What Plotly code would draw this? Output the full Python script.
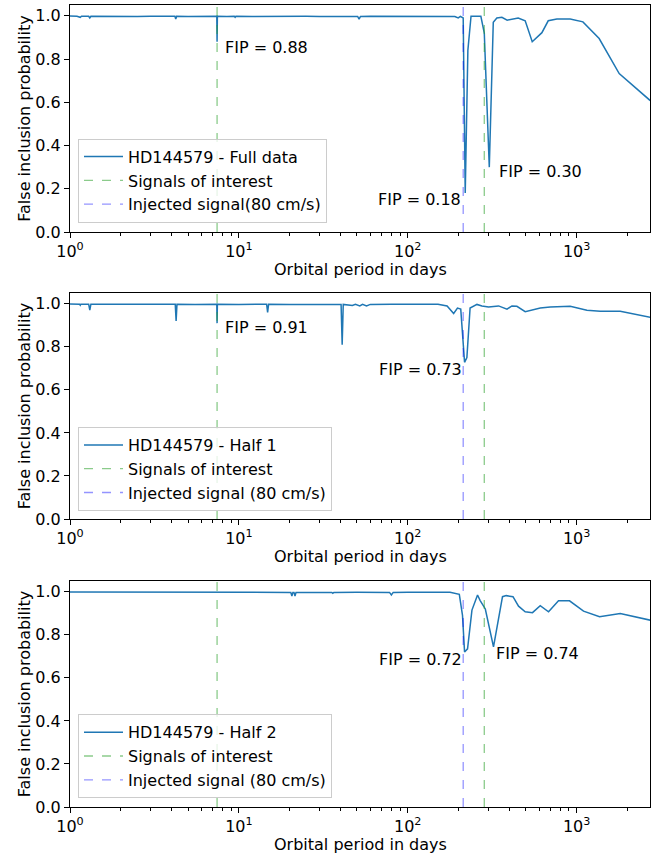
import math
import plotly.graph_objects as go

# ---------------- data ----------------
period_full = [1.0, 1.10, 1.15, 1.17, 1.29, 1.31, 1.33, 1.6, 2.0, 2.5, 3.0, 3.5, 4.18, 4.23, 4.28,
               5.0, 6.0, 7.0, 7.40, 7.43, 7.46, 8.5, 9.4, 9.5, 9.6, 12, 15, 20, 25, 30, 40,
               50.5, 51.5, 52.5, 60, 80, 100, 130, 160, 190, 199, 205, 213, 219, 227, 237,
               271, 284, 304, 321, 337, 361, 388, 451, 496, 546, 623, 679, 764, 916, 1090,
               1360, 1787, 2728]
fip_full = [0.999, 0.998, 0.993, 0.998, 0.998, 0.990, 0.998, 0.997, 0.998, 0.997, 0.998, 0.997, 0.998, 0.985, 0.998,
            0.997, 0.998, 0.997, 0.998, 0.880, 0.998, 0.997, 0.998, 0.993, 0.998, 0.997, 0.998, 0.997, 0.998, 0.997, 0.998,
            0.997, 0.985, 0.997, 0.998, 0.997, 0.998, 0.997, 0.998, 0.997, 0.990, 0.997, 0.990, 0.180, 0.840, 0.998,
            0.998, 0.920, 0.300, 0.970, 0.990, 0.993, 0.980, 0.990, 0.977, 0.880, 0.922, 0.977, 0.985, 0.985, 0.972,
            0.895, 0.733, 0.608]

period_half1 = [1.0, 1.14, 1.15, 1.16, 1.29, 1.31, 1.33, 2.0, 3.0, 4.2, 4.25, 4.30, 5.5, 7.40, 7.43, 7.46,
                10, 14.6, 14.8, 15.0, 20, 30, 40.3, 40.9, 41.5, 47, 49, 52, 54, 57, 60, 80, 100, 130,
                151, 171, 187, 197, 206, 217, 224, 234, 257, 275, 301, 345, 387, 414, 443, 496, 609,
                698, 916, 1151, 1380, 1813, 2728]
fip_half1 = [0.999, 0.998, 0.993, 0.998, 0.998, 0.970, 0.998, 0.997, 0.998, 0.998, 0.920, 0.998, 0.997, 0.998, 0.910, 0.998,
             0.997, 0.998, 0.960, 0.998, 0.997, 0.998, 0.997, 0.810, 0.997, 0.992, 0.997, 0.990, 0.997, 0.990, 0.997, 0.998, 0.997, 0.998,
             0.998, 0.990, 0.955, 0.980, 0.975, 0.728, 0.750, 0.980, 0.997, 0.990, 0.985, 0.990, 0.975, 0.990, 0.988, 0.963, 0.980,
             0.985, 0.988, 0.970, 0.965, 0.965, 0.937]

period_half2 = [1.0, 2, 4, 6, 10, 15, 20.3, 20.6, 20.9, 21.2, 21.5, 21.8, 30, 35.5, 36, 36.5, 50, 70, 78,
                80, 82, 100, 130, 178, 202, 211, 217, 226, 240, 259, 268, 288, 322, 364, 383, 420,
                453, 496, 548, 609, 682, 781, 908, 1099, 1367, 1813, 2728]
fip_half2 = [0.999, 0.998, 0.997, 0.998, 0.997, 0.998, 0.997, 0.980, 0.997, 0.997, 0.980, 0.997, 0.998, 0.997, 0.993, 0.997, 0.998, 0.997, 0.997,
             0.985, 0.997, 0.998, 0.997, 0.998, 0.988, 0.890, 0.720, 0.735, 0.915, 0.985, 0.960, 0.920, 0.744, 0.977, 0.982, 0.977,
             0.933, 0.907, 0.903, 0.935, 0.907, 0.958, 0.958, 0.910, 0.884, 0.899, 0.868]

signals_of_interest = [7.43, 284]
injected_signal = [213]

series_names = ["HD144579 - Full data", "HD144579 - Half 1", "HD144579 - Half 2"]
injected_names = ["Injected signal(80 cm/s)", "Injected signal (80 cm/s)", "Injected signal (80 cm/s)"]
x_title = "Orbital period in days"
y_title = "False inclusion probability"

# FIP labels: (period, fip level, text, anchor)
labels_full = [(8.03, 0.855, "FIP = 0.88", "left"), (213, 0.149, "FIP = 0.18", "right"), (337, 0.28, "FIP = 0.30", "left")]
labels_half1 = [(8.03, 0.888, "FIP = 0.91", "left"), (216, 0.694, "FIP = 0.73", "right")]
labels_half2 = [(214, 0.683, "FIP = 0.72", "right"), (326, 0.714, "FIP = 0.74", "left")]

x_ticks = [1, 10, 100, 1000]
x_ticktext = ["10<sup>0</sup>", "10<sup>1</sup>", "10<sup>2</sup>", "10<sup>3</sup>"]
x_minor = [m * d for d in (1, 10, 100, 1000) for m in range(2, 10)]
y_ticks = [0.0, 0.2, 0.4, 0.6, 0.8, 1.0]
x_max = 2720
y_max = 1.05

# ---------------- figure ----------------
FONT = "DejaVu Sans"
LINE = "#1f77b4"
GREEN = "rgba(44,160,44,0.55)"
BLUE = "rgba(0,0,255,0.42)"

W, H = 657, 856
ml, mr, mt, mb = 70, 7, 5, 49
ph = H - mt - mb
panels_px = [(5, 232), (293, 519), (581, 807)]
domains = [[(H - mb - b) / ph, (H - mb - t) / ph] for t, b in panels_px]

fig = go.Figure()
datasets = [(period_full, fip_full), (period_half1, fip_half1), (period_half2, fip_half2)]
all_labels = [labels_full, labels_half1, labels_half2]

for i, (per, fip) in enumerate(datasets):
    sfx = "" if i == 0 else str(i + 1)
    xa, ya = "x" + sfx, "y" + sfx
    leg = "legend" + sfx
    fig.add_trace(go.Scatter(x=per, y=fip, mode="lines", line=dict(color=LINE, width=1.5),
                             name=series_names[i], xaxis=xa, yaxis=ya, legend=leg))
    for j, p in enumerate(signals_of_interest):
        fig.add_trace(go.Scatter(x=[p, p], y=[0, y_max], mode="lines",
                                 line=dict(color=GREEN, width=1.3, dash="dash"),
                                 name="Signals of interest", showlegend=(j == 0),
                                 xaxis=xa, yaxis=ya, legend=leg))
    for p in injected_signal:
        fig.add_trace(go.Scatter(x=[p, p], y=[0, y_max], mode="lines",
                                 line=dict(color=BLUE, width=1.3, dash="dash"),
                                 name=injected_names[i], xaxis=xa, yaxis=ya, legend=leg))
    for (px_, py_, txt, anc) in all_labels[i]:
        fig.add_annotation(x=math.log10(px_), y=py_, xref=xa, yref=ya, text=txt,
                           showarrow=False, xanchor=anc, yanchor="middle",
                           font=dict(family=FONT, size=16, color="black"))
    # x-axis title placed under tick labels
    fig.add_annotation(x=0.5, y=0, xref=xa + " domain", yref=ya + " domain", text=x_title,
                       showarrow=False, xanchor="center", yanchor="middle", yshift=-37,
                       font=dict(family=FONT, size=16, color="black"))

    axis_common = dict(showline=True, mirror=True, linecolor="black", linewidth=1,
                       ticks="outside", ticklen=5, tickwidth=1, tickcolor="black",
                       showgrid=False, zeroline=False,
                       tickfont=dict(family=FONT, size=16, color="black"))
    xkey = "xaxis" + sfx
    ykey = "yaxis" + sfx
    fig.update_layout(**{
        xkey: dict(type="log", range=[0, math.log10(x_max)], domain=[0, 1], anchor=ya,
                   tickvals=x_ticks, ticktext=x_ticktext,
                   minor=dict(tickvals=x_minor, ticks="outside", ticklen=3, tickwidth=1, tickcolor="black"),
                   **axis_common),
        ykey: dict(range=[0, y_max], domain=domains[i], anchor=xa,
                   tickvals=y_ticks, tickformat=".1f",
                   title=dict(text=y_title, standoff=0,
                              font=dict(family=FONT, size=16, color="black")),
                   **axis_common),
    })
    leg_bottom_px = [222.7, 511, 798.3][i]
    fig.update_layout(**{
        leg: dict(x=(78 - ml) / (W - ml - mr), y=(H - mb - leg_bottom_px) / ph,
                  xanchor="left", yanchor="bottom",
                  bgcolor="rgba(255,255,255,0.8)", bordercolor="#cccccc", borderwidth=1,
                  font=dict(family=FONT, size=16, color="black"),
                  tracegroupgap=0, itemwidth=39)
    })

fig.update_layout(width=W, height=H, margin=dict(l=ml, r=mr, t=mt, b=mb),
                  paper_bgcolor="white", plot_bgcolor="white",
                  font=dict(family=FONT, size=16, color="black"))

fig.write_html("out.html")
